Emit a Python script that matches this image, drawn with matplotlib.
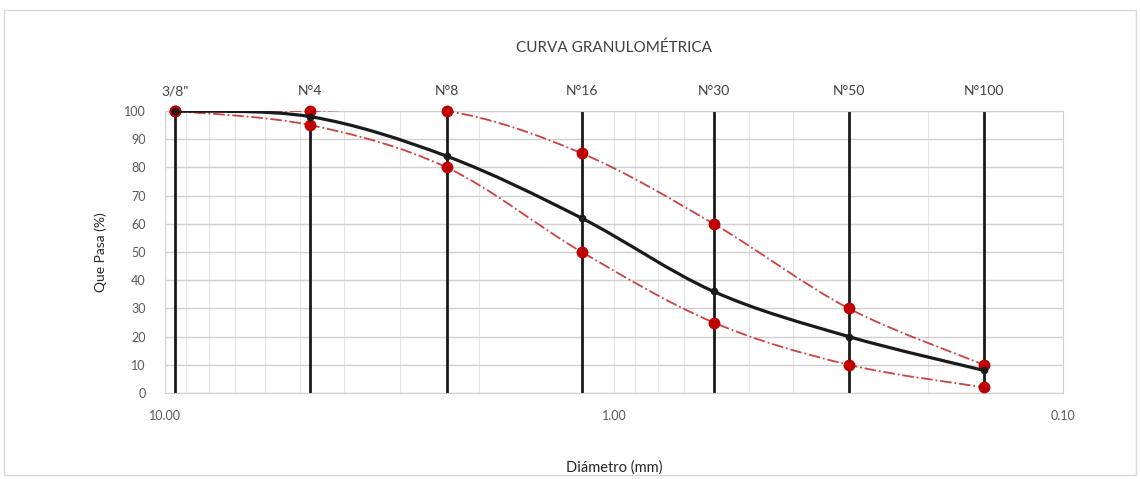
import numpy as np
import matplotlib.pyplot as plt
from matplotlib.patches import Rectangle, PathPatch
from matplotlib.path import Path
from matplotlib.ticker import FixedLocator, NullFormatter, LogLocator

plt.rcParams['font.family'] = ['Lato', 'DejaVu Sans']

# tamices y aberturas (mm)
tamices = ['3/8"', 'N°4', 'N°8', 'N°16', 'N°30', 'N°50', 'N°100']
abertura = [9.5, 4.75, 2.36, 1.18, 0.60, 0.30, 0.15]
pasa = [100, 98, 84, 62, 36, 20, 8]
lim_sup = [100, 100, 100, 85, 60, 30, 10]
lim_inf = [100, 95, 80, 50, 25, 10, 2]

gris = '#595959'


def curva_suave(ax, x, y, **kw):
    # linea suavizada tipo Excel (bezier en espacio log x)
    lx = np.log10(x)
    y = np.asarray(y, dtype=float)
    n = len(lx)
    verts = [(x[0], y[0])]
    codes = [Path.MOVETO]
    for i in range(n - 1):
        p0 = (lx[i - 1], y[i - 1]) if i > 0 else (lx[i], y[i])
        p1 = (lx[i], y[i])
        p2 = (lx[i + 1], y[i + 1])
        p3 = (lx[i + 2], y[i + 2]) if i + 2 < n else p2
        c1 = (p1[0] + (p2[0] - p0[0]) / 6, p1[1] + (p2[1] - p0[1]) / 6)
        c2 = (p2[0] - (p3[0] - p1[0]) / 6, p2[1] - (p3[1] - p1[1]) / 6)
        for c in (c1, c2, p2):
            verts.append((10 ** c[0], c[1]))
        codes += [Path.CURVE4] * 3
    ax.add_patch(PathPatch(Path(verts, codes), fill=False, **kw))


fig = plt.figure(figsize=(11.4, 4.79), dpi=100)
ax = fig.add_axes([165 / 1140, 1 - 393 / 479, (1063 - 165) / 1140, (393 - 111) / 479])

# borde del area del grafico
fig.patches.append(Rectangle((4 / 1140, 4 / 479), 1132 / 1140, 465 / 479, transform=fig.transFigure,
                             fill=False, edgecolor='#d9d9d9', linewidth=1.0))

ax.set_xscale('log')
ax.set_xlim(10, 0.1)
ax.set_ylim(0, 100)

# rejilla
ax.set_yticks(range(0, 101, 10))
ax.xaxis.set_major_locator(FixedLocator([10, 1, 0.1]))
ax.xaxis.set_minor_locator(LogLocator(base=10, subs=range(2, 10)))
ax.xaxis.set_minor_formatter(NullFormatter())
ax.set_xticklabels(['10.00', '1.00', '0.10'])
ax.grid(True, which='major', axis='y', color='#d0d0d0', linewidth=1.0)
ax.grid(True, which='both', axis='x', color='#e4e4e4', linewidth=0.8)
ax.set_axisbelow(True)

for s in ax.spines.values():
    s.set_color('#d0d0d0')
ax.tick_params(axis='both', which='both', length=0, labelsize=9, colors=gris)
ax.tick_params(axis='y', pad=14)
ax.tick_params(axis='x', pad=12)

# lineas verticales de tamices
for a in abertura:
    ax.axvline(a, color='#1a1a1a', linewidth=2.0, zorder=2)

# limites
for lim in (lim_sup, lim_inf):
    curva_suave(ax, abertura, lim, edgecolor='#d04040', linestyle='-.', linewidth=1.3, zorder=3)
    ax.plot(abertura, lim, linestyle='none', zorder=3, marker='o', markersize=7.5, clip_on=False,
            markerfacecolor='#c00000', markeredgecolor='#c00000')
# curva
curva_suave(ax, abertura, pasa, edgecolor='#1a1a1a', linewidth=2.3, zorder=4)
ax.plot(abertura, pasa, linestyle='none', zorder=4, marker='o', markersize=4.5, clip_on=False,
        markerfacecolor='#1a1a1a', markeredgecolor='#1a1a1a')

# eje superior con los tamices
ax2 = ax.twiny()
ax2.set_xscale('log')
ax2.set_xlim(ax.get_xlim())
ax2.set_xticks(abertura)
ax2.set_xticklabels(tamices)
ax2.xaxis.set_minor_locator(FixedLocator([]))
ax2.tick_params(axis='x', length=0, labelsize=10, colors='#404040', pad=10)
for s in ax2.spines.values():
    s.set_visible(False)

ax.set_ylabel('Que Pasa (%)', fontsize=10, color='#262626', labelpad=12)
ax.set_xlabel('Diámetro (mm)', fontsize=10.5, color='#262626', labelpad=28)
fig.text(614 / 1140, 1 - 48 / 479, 'CURVA GRANULOMÉTRICA', ha='center', va='center',
         fontsize=11, color='#404040')

plt.savefig('out.png', dpi=100)
